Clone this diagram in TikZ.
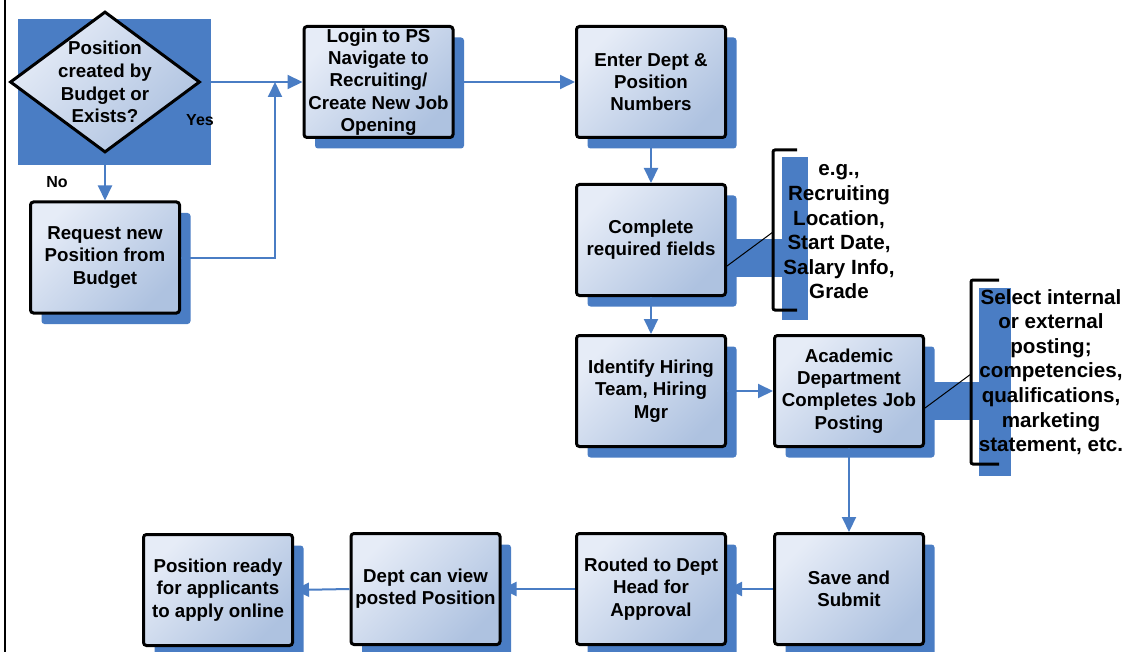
\documentclass[tikz,border=0pt]{standalone}
\usepackage{fontspec}
\setmainfont{Liberation Sans}
\usetikzlibrary{shapes.geometric,shadows,arrows.meta}
\definecolor{flowblue}{HTML}{4A7DC4}
\definecolor{boxlight}{HTML}{E6ECF7}
\definecolor{boxdark}{HTML}{AEC2E0}
\begin{document}
\begin{tikzpicture}[x=0.5pt, y=-0.5pt, >={Triangle[length=7.5pt,width=7pt]},
    boxfill/.style={top color=boxlight, bottom color=boxdark, shading angle=45},
    flowbox/.style={draw, line width=1.5pt, rounded corners=1.5pt, boxfill,
        minimum width=74.5pt, minimum height=55.5pt, inner sep=1pt, align=center,
        font=\fontsize{9.35}{11.15}\selectfont\bfseries,
        drop shadow={shadow xshift=5.5pt, shadow yshift=-5.5pt, fill=flowblue, opacity=1}},
    flow/.style={->, flowblue, line width=1pt},
    note/.style={align=center, font=\fontsize{10.3}{12.3}\selectfont\bfseries},
    bracket/.style={line width=1.5pt, rounded corners=1pt},
    answer/.style={font=\fontsize{8}{9.6}\selectfont\bfseries}]
    \useasboundingbox (0,0) rectangle (1128,652);
    % Left frame line
    \draw[line width=1pt] (5,0) -- (5,652);

    % Draw the decision with its shadow
    \fill[flowblue] (18,19) rectangle (211,165);
    \node[draw, diamond, line width=1.5pt, boxfill, minimum width=95pt,
        minimum height=70.5pt, inner sep=0pt] (dec) at (105,82) {};
    \node[align=center, font=\fontsize{9.35}{11.35}\selectfont\bfseries] (dectext) at (dec.center)
        {Position\\created by\\Budget or\\Exists?};
    \node[answer] (yes) at (200,120) {Yes};
    \node[answer] (no) at (57,182) {No};

    % Draw the callout shadows and brackets
    \fill[flowblue] (727,239) rectangle (782,277);
    \fill[flowblue] (782,157) rectangle (808,320);
    \draw[bracket] (797,150) -- (773,150) -- (773,310) -- (797,310);
    \coordinate (fieldsmark) at (773,232);
    \fill[flowblue] (925,382) rectangle (979,420);
    \fill[flowblue] (979,288) rectangle (1011,476);
    \draw[bracket] (999,280) -- (971,280) -- (971,464) -- (999,464);
    \coordinate (postingmark) at (971,374);

    % Draw the process boxes
    \node[flowbox] (request) at (105,257.5) {Request new\\Position from\\Budget};
    \node[flowbox] (login) at (378.5,82) {Login to PS\\Navigate to\\Recruiting/\\Create New Job\\Opening};
    \node[flowbox] (enter) at (651,82) {Enter Dept \&\\Position\\Numbers};
    \node[flowbox] (complete) at (651,240) {Complete\\required fields};
    \node[flowbox] (identify) at (651,391) {Identify Hiring\\Team, Hiring\\Mgr};
    \node[flowbox] (academic) at (849,391) {Academic\\Department\\Completes Job\\Posting};
    \node[flowbox] (save) at (849,589) {Save and\\Submit};
    \node[flowbox] (routed) at (651,589) {Routed to Dept\\Head for\\Approval};
    \node[flowbox] (view) at (425.5,589) {Dept can view\\posted Position};
    \node[flowbox] (ready) at (218,590) {Position ready\\for applicants\\to apply online};

    % Callout texts and leaders
    \node[note] (fields) at (839,232) {e.g.,\\Recruiting\\Location,\\Start Date,\\Salary Info,\\Grade};
    \node[note] (posting) at (1051,372) {Select internal\\or external\\posting;\\competencies,\\qualifications,\\marketing\\statement, etc.};
    \draw[line width=0.5pt] ([yshift=-13pt]complete.east) -- (fieldsmark);
    \draw[line width=0.5pt] ([yshift=-8.5pt]academic.east) -- (postingmark);

    % Draw the flow arrows
    \coordinate (merge) at (275,82);
    \draw[flow] (dec.east) -- (login.west);
    \draw[flow] (dec.south) -- (request.north);
    \draw[flow] (request.east) -| (merge);
    \draw[flow] (login.east) -- (enter.west);
    \draw[flow] (enter.south) -- (complete.north);
    \draw[flow] (complete.south) -- (identify.north);
    \draw[flow] (identify.east) -- (academic.west);
    \draw[flow] (academic.south) -- (save.north);
    \draw[flow] (save.west) -- (routed.east);
    \draw[flow] (routed.west) -- (view.east);
    \draw[flow] (view.west) -- (ready.east);
\end{tikzpicture}
\end{document}
